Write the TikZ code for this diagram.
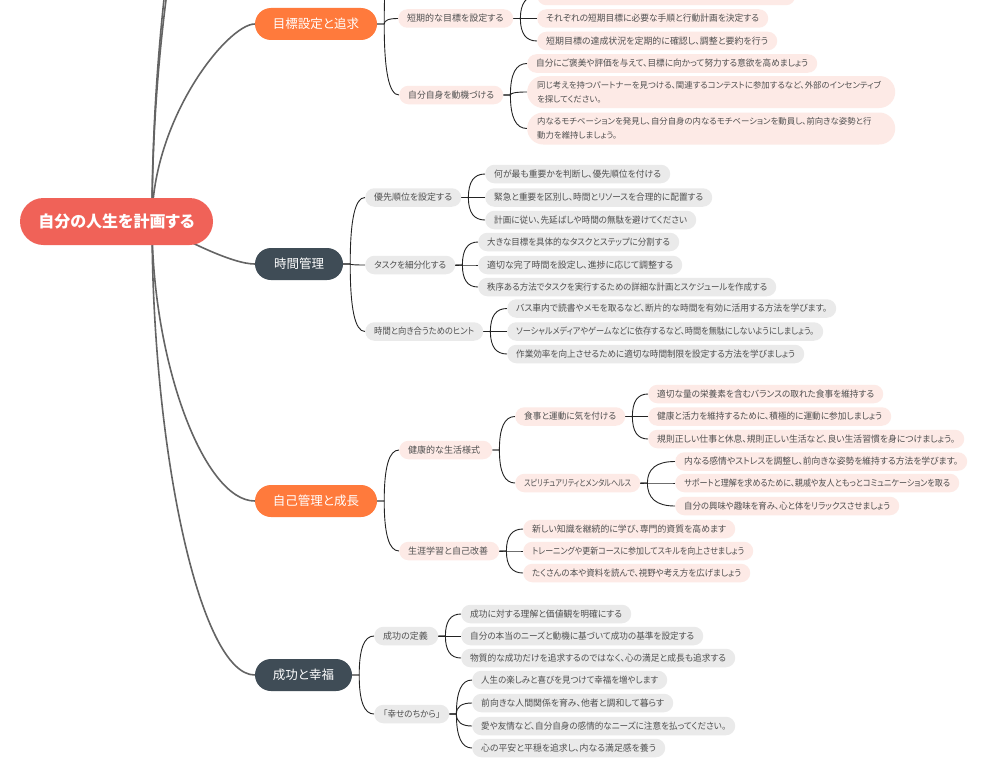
\documentclass[tikz,border=0pt]{standalone}
\usepackage{fontspec}
\usepackage{graphicx}
\newfontfamily\jp[RawFeature=+palt]{Noto Sans CJK JP}
\usetikzlibrary{calc}
\pgfdeclarelayer{bg}
\pgfsetlayers{bg,main}
\definecolor{rootc}{RGB}{240,98,88}
\definecolor{orangec}{RGB}{255,122,60}
\definecolor{darkc}{RGB}{63,76,86}
\definecolor{pinkc}{RGB}{253,234,230}
\definecolor{grayc}{RGB}{234,234,234}
\definecolor{pilltext}{RGB}{80,80,80}
\definecolor{mainline}{RGB}{100,100,100}
\definecolor{subline}{RGB}{35,35,35}
\tikzset{
  base/.style={font=\jp\fontsize{9}{14}\selectfont, text=pilltext, inner xsep=9pt, inner ysep=0pt,
    minimum height=18.5pt, rounded corners=9.25pt},
  pk/.style={base, fill=pinkc},
  gy/.style={base, fill=grayc},
  tight/.style={font=\jp\fontsize{8.4}{14}\selectfont},
  two/.style={minimum height=32pt, rounded corners=16pt, align=left, text width=348pt, inner xsep=10pt},
  bigbase/.style={font=\jp\fontsize{12.5}{15}\selectfont, text=white, minimum height=32pt,
    rounded corners=16pt, inner xsep=0pt, inner ysep=0pt},
  mainO/.style={bigbase, fill=orangec},
  mainD/.style={bigbase, fill=darkc},
  rootn/.style={font=\jp\bfseries\fontsize{16}{19}\selectfont, text=white, fill=rootc,
    minimum height=47pt, minimum width=193pt, rounded corners=23.5pt, inner sep=0pt},
  mainl/.style={draw=mainline, line width=1.6pt},
  subl/.style={draw=subline, line width=0.9pt}
}
\newlength\fitw
\newcommand\fitbox[2]{\setlength\fitw{#1}\sbox0{#2}%
  \ifdim\wd0>\fitw\resizebox{\fitw}{\ht0}{\usebox0}\else\makebox[\fitw][l]{\usebox0}\fi}
\newcommand\pill[6]{\node[#1, anchor=west, minimum width={#4-#3}] (#2) at (#3,#5)
  {\fitbox{\dimexpr #4pt-#3pt-18pt\relax}{#6}};}
\newcommand\pilltwo[5]{\node[#1, anchor=west] (#2) at (#3,#4) {#5};}
\newcommand\brk[2]{\path (#1.east) ++(7,0) coordinate (bF);
  \path (bF |- #2.west) coordinate (bK);
  \draw[subl] (#1.east) -- (bF) .. controls ($(bF)!0.67!(bK)$) and ($(#2.west)!0.67!(bK)$) .. (#2.west);}
\begin{document}
\begin{tikzpicture}[x=1pt,y=-1pt]
\useasboundingbox (0,0) rectangle (981,760);
\clip (0,0) rectangle (981,760);

% root and main branches
\node[rootn] (root) at (116.5,221.5) {自分の人生を計画する};
\node[mainO, minimum width=122pt] (goal) at (316,24) {目標設定と追求};
\node[mainD, minimum width=88pt] (time) at (299,264) {時間管理};
\node[mainO, minimum width=122pt] (self) at (316,501) {自己管理と成長};
\node[mainD, minimum width=97pt] (succ) at (303.5,675) {成功と幸福};

% goal branch
\pill{pk}{g1}{398}{513}{18.5}{短期的な目標を設定する}
\pill{pk}{g2}{399}{503}{95}{自分自身を動機づける}
\pill{pk}{g1a}{537}{795}{-4}{長期目標を達成可能な短期目標に分解し、明確な期限を設定する}
\pill{pk}{g1b}{537}{768}{18.5}{それぞれの短期目標に必要な手順と行動計画を決定する}
\pill{pk}{g1c}{537}{777}{41}{短期目標の達成状況を定期的に確認し、調整と要約を行う}
\pill{pk}{g2a}{527}{817}{63.5}{自分にご褒美や評価を与えて、目標に向かって努力する意欲を高めましょう}
\pilltwo{pk,two,tight}{g2b}{527}{92}{同じ考えを持つパートナーを見つける、関連するコンテストに参加するなど、外部のインセンティブ\\を探してください。}
\pilltwo{pk,two,tight}{g2c}{527}{128.5}{内なるモチベーションを発見し、自分自身の内なるモチベーションを動員し、前向きな姿勢と行\\動力を維持しましょう。}
\coordinate (g0) at (398,-60);

% time branch
\pill{gy}{t1}{365}{461}{197.5}{優先順位を設定する}
\pill{gy}{t2}{365}{455}{265}{タスクを細分化する}
\pill{gy}{t3}{365}{483}{331.5}{時間と向き合うためのヒント}
\pill{gy}{t1a}{485}{670}{174}{何が最も重要かを判断し、優先順位を付ける}
\pill{gy}{t1b}{485}{712}{197.5}{緊急と重要を区別し、時間とリソースを合理的に配置する}
\pill{gy}{t1c}{485}{696}{220}{計画に従い、先延ばしや時間の無駄を避けてください}
\pill{gy}{t2a}{478}{679}{242}{大きな目標を具体的なタスクとステップに分割する}
\pill{gy}{t2b}{478}{682}{265}{適切な完了時間を設定し、進捗に応じて調整する}
\pill{gy}{t2c}{478}{776}{287}{秩序ある方法でタスクを実行するための詳細な計画とスケジュールを作成する}
\pill{gy}{t3a}{507}{836}{308.5}{バス車内で読書やメモを取るなど、断片的な時間を有効に活用する方法を学びます。}
\pill{gy}{t3b}{507}{823}{331.5}{ソーシャルメディアやゲームなどに依存するなど、時間を無駄にしないようにしましょう。}
\pill{gy}{t3c}{507}{804}{354}{作業効率を向上させるために適切な時間制限を設定する方法を学びましょう}

% self branch
\pill{pk}{s1}{399}{492}{450}{健康的な生活様式}
\pill{pk}{s2}{399}{499}{551}{生涯学習と自己改善}
\pill{pk}{s1a}{515}{625}{416.5}{食事と運動に気を付ける}
\pill{pk}{s1b}{515}{640}{483}{スピリチュアリティとメンタルヘルス}
\pill{pk}{s1a1}{648}{883}{394}{適切な量の栄養素を含むバランスの取れた食事を維持する}
\pill{pk}{s1a2}{648}{891}{416.5}{健康と活力を維持するために、積極的に運動に参加しましょう}
\pill{pk}{s1a3}{648}{964}{439}{規則正しい仕事と休息、規則正しい生活など、良い生活習慣を身につけましょう。}
\pill{pk}{s1b1}{675}{967}{461.5}{内なる感情やストレスを調整し、前向きな姿勢を維持する方法を学びます。}
\pill{pk}{s1b2}{675}{959}{483}{サポートと理解を求めるために、親戚や友人ともっとコミュニケーションを取る}
\pill{pk}{s1b3}{675}{899}{506}{自分の興味や趣味を育み、心と体をリラックスさせましょう}
\pill{pk}{s2a}{523}{735}{529}{新しい知識を継続的に学び、専門的資質を高めます}
\pill{pk}{s2b}{523}{753}{551}{トレーニングや更新コースに参加してスキルを向上させましょう}
\pill{pk}{s2c}{523}{750}{573}{たくさんの本や資料を読んで、視野や考え方を広げましょう}

% success branch
\pill{gy}{u1}{374}{438}{636}{成功の定義}
\pill{gy}{u2}{374}{449}{714}{「幸せのちから」}
\pill{gy}{u1a}{461}{631}{614}{成功に対する理解と価値観を明確にする}
\pill{gy}{u1b}{461}{703}{636}{自分の本当のニーズと動機に基づいて成功の基準を設定する}
\pill{gy}{u1c}{461}{735}{658}{物質的な成功だけを追求するのではなく、心の満足と成長も追求する}
\pill{gy}{u2a}{472}{667}{680}{人生の楽しみと喜びを見つけて幸福を増やします}
\pill{gy}{u2b}{472}{673}{703}{前向きな人間関係を育み、他者と調和して暮らす}
\pill{gy}{u2c}{472}{735}{726}{愛や友情など、自分自身の感情的なニーズに注意を払ってください。}
\pill{gy}{u2d}{472}{665}{748}{心の平安と平穏を追求し、内なる満足感を養う}

\begin{pgfonlayer}{bg}
\fill[white] (0,0) rectangle (981,760);
\clip (0,0) rectangle (981,760);
\coordinate (rs) at (152,222);
\coordinate (up1) at (255,-260);
\coordinate (up2) at (255,-300);
\draw[mainl] (rs) .. controls (152,-20) and (204,-260) .. (up1);
\draw[mainl] (rs) .. controls (152,-40) and (204,-300) .. (up2);
\draw[mainl] (rs) .. controls (152,118) and (228,24) .. (goal.west);
\draw[mainl] (rs) .. controls (185,240) and (232,264) .. (time.west);
\draw[mainl] (rs) .. controls (152,362) and (204,501) .. (self.west);
\draw[mainl] (rs) .. controls (152,450) and (200,675) .. (succ.west);

\path (goal.east) ++(7,0) coordinate (gF);
\path (gF |- g0) coordinate (gK);
\draw[subl] (gF) .. controls ($(gF)!0.67!(gK)$) and ($(g0)!0.67!(gK)$) .. (g0);
\brk{goal}{g1} \brk{goal}{g2}
\brk{g1}{g1a} \brk{g1}{g1b} \brk{g1}{g1c}
\brk{g2}{g2a} \brk{g2}{g2b} \brk{g2}{g2c}
\brk{time}{t1} \brk{time}{t2} \brk{time}{t3}
\brk{t1}{t1a} \brk{t1}{t1b} \brk{t1}{t1c}
\brk{t2}{t2a} \brk{t2}{t2b} \brk{t2}{t2c}
\brk{t3}{t3a} \brk{t3}{t3b} \brk{t3}{t3c}
\brk{self}{s1} \brk{self}{s2}
\brk{s1}{s1a} \brk{s1}{s1b}
\brk{s1a}{s1a1} \brk{s1a}{s1a2} \brk{s1a}{s1a3}
\brk{s1b}{s1b1} \brk{s1b}{s1b2} \brk{s1b}{s1b3}
\brk{s2}{s2a} \brk{s2}{s2b} \brk{s2}{s2c}
\brk{succ}{u1} \brk{succ}{u2}
\brk{u1}{u1a} \brk{u1}{u1b} \brk{u1}{u1c}
\brk{u2}{u2a} \brk{u2}{u2b} \brk{u2}{u2c} \brk{u2}{u2d}
\end{pgfonlayer}
\end{tikzpicture}
\end{document}
